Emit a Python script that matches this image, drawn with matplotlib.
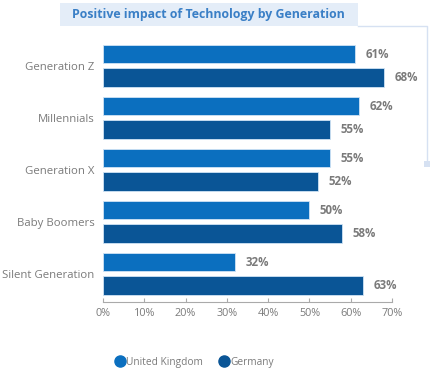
import matplotlib
matplotlib.use('Agg')
import matplotlib.pyplot as plt
from matplotlib.patches import Rectangle
from matplotlib.lines import Line2D
import numpy as np

generations = ['Generation Z', 'Millennials', 'Generation X', 'Baby Boomers', 'Silent Generation']
uk = [61, 62, 55, 50, 32]
germany = [68, 55, 52, 58, 63]
series_names = ['United Kingdom', 'Germany']
xticks = [0, 10, 20, 30, 40, 50, 60, 70]

UK_COLOR = '#0b6fbf'
DE_COLOR = '#0a5596'
GRAY = '#7a7a7a'
FONT = ['Open Sans', 'DejaVu Sans']

plt.rcParams['font.family'] = FONT

fig = plt.figure(figsize=(4.48, 3.83), dpi=100)
ax = fig.add_axes([103 / 448, 81 / 383, 289 / 448, 262 / 383])

y = np.arange(len(generations))
off, h = 0.225, 0.36
ax.barh(y - off, uk, height=h, color=UK_COLOR, edgecolor='#cfe3f5', linewidth=0.6)
ax.barh(y + off, germany, height=h, color=DE_COLOR, edgecolor='#cfe3f5', linewidth=0.6)

for yy, v in zip(y - off, uk):
    ax.annotate(f'{v}%', (v, yy), xytext=(7.5, 0), textcoords='offset points',
                va='center', ha='left', fontsize=8.3, fontweight='bold', color=GRAY)
for yy, v in zip(y + off, germany):
    ax.annotate(f'{v}%', (v, yy), xytext=(7.5, 0), textcoords='offset points',
                va='center', ha='left', fontsize=8.3, fontweight='bold', color=GRAY)

ax.set_xlim(0, 70)
ax.set_ylim(4.543, -0.495)
ax.set_xticks(xticks)
ax.set_xticklabels([f'{t}%' for t in xticks], fontsize=7.8, color=GRAY)
ax.set_yticks(y)
ax.set_yticklabels(generations, fontsize=8.2, color=GRAY)
ax.tick_params(axis='y', length=0, pad=6)
ax.tick_params(axis='x', direction='in', length=3, color='#aaaaaa', pad=4)
for s in ['top', 'right', 'left']:
    ax.spines[s].set_visible(False)
ax.spines['bottom'].set_color('#aaaaaa')
ax.spines['bottom'].set_linewidth(0.8)

# title box with frame line
fig.patches.append(Rectangle((60 / 448, 1 - 26 / 383), 298 / 448, 23 / 383,
                             transform=fig.transFigure, facecolor='#e4edf8', edgecolor='none'))
fig.text(208 / 448, 1 - 14.5 / 383, 'Positive impact of Technology by Generation',
         ha='center', va='center', fontsize=8.9, fontweight='bold', color='#3a7fc6')
fig.add_artist(Line2D([358 / 448, 427 / 448, 427 / 448],
                      [1 - 25.5 / 383, 1 - 25.5 / 383, 1 - 163 / 383],
                      transform=fig.transFigure, color='#d6e1f2', linewidth=1.0))
fig.patches.append(Rectangle((424 / 448, 1 - 167 / 383), 6 / 448, 6 / 383,
                             transform=fig.transFigure, facecolor='#d6e1f2', edgecolor='none'))

# legend
handles = [Line2D([], [], marker='o', linestyle='', markersize=8, color=c) for c in (UK_COLOR, DE_COLOR)]
fig.legend(handles, series_names, loc='center', bbox_to_anchor=(194 / 448, 1 - 362 / 383),
           ncol=2, frameon=False, fontsize=7.3, labelcolor=GRAY, handletextpad=0.1,
           columnspacing=1.6, handlelength=1.0)

fig.savefig('out.png', dpi=100)
